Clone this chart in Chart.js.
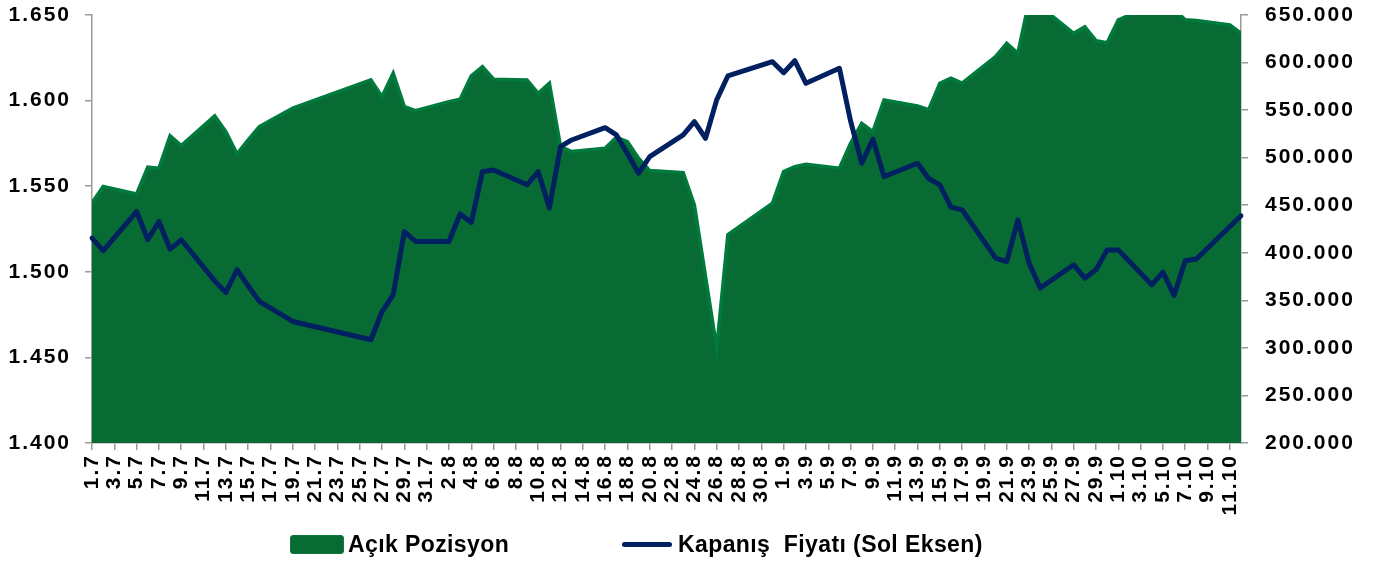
<!DOCTYPE html>
<html>
<head>
<meta charset="utf-8">
<script src="https://cdn.jsdelivr.net/npm/chart.js@4.4.0/dist/chart.umd.min.js"></script>
<style>
  body { margin: 0; background: #fff; }
  #wrap { position: relative; width: 1375px; height: 561px; }
  .legend { position: absolute; top: 531px; height: 26px; display: flex; align-items: center;
            font-family: "Liberation Sans", Arial, sans-serif; font-weight: bold; font-size: 23px;
            letter-spacing: 0.4px; color: #000; white-space: pre; }
  .box { width: 52px; height: 17px; background: #086b33; border: 1px solid #0b7a3e; border-radius: 3px; margin-right: 4px; }
  .ln { width: 50px; height: 5px; background: #002060; border-radius: 3px; margin-right: 6px; }
</style>
</head>
<body>
<div id="wrap">
  <canvas id="oiChart" width="1375" height="561"></canvas>
  <div class="legend" style="left:290px"><div class="box"></div>Açık Pozisyon</div>
  <div class="legend" style="left:622px"><div class="ln"></div>Kapanış  Fiyatı (Sol Eksen)</div>
</div>
<script>
// tarih ekseni (her gün bir kategori, hafta sonları boş)
const days = [
  '1.7','2.7','3.7','4.7','5.7','6.7','7.7','8.7','9.7','10.7','11.7','12.7','13.7','14.7','15.7','16.7',
  '17.7','18.7','19.7','20.7','21.7','22.7','23.7','24.7','25.7','26.7','27.7','28.7','29.7','30.7','31.7',
  '1.8','2.8','3.8','4.8','5.8','6.8','7.8','8.8','9.8','10.8','11.8','12.8','13.8','14.8','15.8','16.8',
  '17.8','18.8','19.8','20.8','21.8','22.8','23.8','24.8','25.8','26.8','27.8','28.8','29.8','30.8','31.8',
  '1.9','2.9','3.9','4.9','5.9','6.9','7.9','8.9','9.9','10.9','11.9','12.9','13.9','14.9','15.9','16.9',
  '17.9','18.9','19.9','20.9','21.9','22.9','23.9','24.9','25.9','26.9','27.9','28.9','29.9','30.9',
  '1.10','2.10','3.10','4.10','5.10','6.10','7.10','8.10','9.10','10.10','11.10','12.10'
];

// Açık Pozisyon (sağ eksen)
const openInterest = [
  452500, 469600, null, null, 461900, 490000, 489000, 522900, 512700, null, null, 543900, 527400, 504000, 518700, 532700,
  null, null, 552000, null, null, null, null, null, null, 581700, 564200, 588800, 553700, 549500, null,
  null, 558900, 561400, 585900, 595700, 582500, null, null, 581700, 567700, 578300, 511600, 506400, null, null, 510000,
  521500, 516900, 499500, 486400, null, null, 484300, 450400, 375000, 299800, 418900, null, null, null, 452200,
  485400, 490600, 493100, null, null, 488900, 515200, 536200, 527400, 560700, null, null, 554400, 550500, 578300,
  583500, 578300, null, null, 606200, 620300, 609800, 665000, 659000, null, null, 630800, 637700, 623000,
  620900, 644800, null, null, 660000, 662000, 656000, 644900, 644100, null, null, 639600, 630900
];

// Kapanış Fiyatı (sol eksen)
const closePrice = [
  1.5197, 1.5124, null, null, 1.5352, 1.5187, 1.5294, 1.5132, 1.5187, null, null, 1.4947, 1.4879, 1.5012, 1.4918, 1.4827,
  null, null, 1.4710, null, null, null, null, null, null, 1.4603, 1.4768, 1.4866, 1.5235, 1.5177, null,
  null, 1.5177, 1.5338, 1.5288, 1.5585, 1.5595, null, null, 1.5508, 1.5585, 1.5372, 1.5731, 1.5770, null, null, 1.5842,
  1.5800, 1.5689, 1.5576, 1.5673, null, null, 1.5800, 1.5877, 1.5780, 1.6004, 1.6144, null, null, null, 1.6227,
  1.6163, 1.6233, 1.6101, null, null, 1.6189, 1.5881, 1.5634, 1.5774, 1.5556, null, null, 1.5634, 1.5545, 1.5508,
  1.5378, 1.5362, null, null, 1.5080, 1.5060, 1.5303, 1.5051, 1.4905, null, null, 1.5041, 1.4963, 1.5012,
  1.5128, 1.5128, null, null, 1.4924, 1.4998, 1.4862, 1.5065, 1.5075, null, null, null, 1.5327
];

const priceAxis = { min: 1.4, max: 1.65, step: 0.05 };
const oiAxis = { min: 200000, max: 650000, step: 50000 };

const axisFont = { family: 'Liberation Sans', weight: 'bold', size: 21 };
const axisGray = '#9a9a9a';

// the reference text is a bit wider than Arial, so space the canvas letters out
const wideText = {
    id: 'wideText',
    beforeDraw(chart) { chart.ctx.letterSpacing = '2px'; }
};

// fixed axis width, and no extra top/bottom padding from the tick labels
function fixWidth(w) {
    return (s) => { s.width = w; s.paddingTop = 0; s.paddingBottom = 0; };
}

const ctx = document.getElementById('oiChart').getContext('2d');
const oiChart = new Chart(ctx, {
    type: 'line',
    data: {
        labels: days,
        datasets: [
            {
                label: 'Açık Pozisyon',
                data: openInterest,
                yAxisID: 'y1',
                order: 1,
                fill: 'start',
                backgroundColor: '#086b33',
                borderColor: '#007a3d',
                borderWidth: 3.5,
                pointRadius: 0,
                spanGaps: true,
                tension: 0,
                clip: 0
            },
            {
                label: 'Kapanış  Fiyatı (Sol Eksen)',
                data: closePrice,
                yAxisID: 'y',
                order: 0,
                fill: false,
                borderColor: '#002060',
                borderWidth: 5,
                borderJoinStyle: 'round',
                borderCapStyle: 'round',
                pointRadius: 0,
                spanGaps: true,
                tension: 0
            }
        ]
    },
    plugins: [wideText],
    options: {
        responsive: false,
        animation: false,
        layout: { padding: { top: 15, bottom: 28, left: 0, right: 0 } },
        plugins: {
            legend: { display: false },
            tooltip: { enabled: false }
        },
        scales: {
            x: {
                type: 'category',
                offset: false,
                grid: { drawOnChartArea: false, tickLength: 7, color: axisGray, lineWidth: 1.5 },
                border: { color: axisGray, width: 1.5 },
                ticks: {
                    autoSkip: false,
                    minRotation: 90,
                    maxRotation: 90,
                    padding: 4,
                    color: '#000',
                    font: axisFont,
                    callback: function (value, index) {
                        return index % 2 === 0 ? this.getLabelForValue(value) : null;
                    }
                },
                afterFit: (s) => { s.height = 90; }
            },
            y: {
                position: 'left',
                min: priceAxis.min,
                max: priceAxis.max,
                grid: { drawOnChartArea: false, tickLength: 7, color: axisGray, lineWidth: 1.5 },
                border: { color: axisGray, width: 1.5 },
                ticks: {
                    stepSize: priceAxis.step,
                    padding: 14,
                    color: '#000',
                    font: axisFont,
                    callback: (v) => v.toFixed(3)
                },
                afterFit: fixWidth(92)
            },
            y1: {
                position: 'right',
                min: oiAxis.min,
                max: oiAxis.max,
                grid: { drawOnChartArea: false, tickLength: 7, color: axisGray, lineWidth: 1.5 },
                border: { color: axisGray, width: 1.5 },
                ticks: {
                    stepSize: oiAxis.step,
                    padding: 17,
                    color: '#000',
                    font: axisFont,
                    callback: (v) => v.toLocaleString('de-DE')
                },
                afterFit: fixWidth(134)
            }
        }
    }
});
</script>
</body>
</html>
